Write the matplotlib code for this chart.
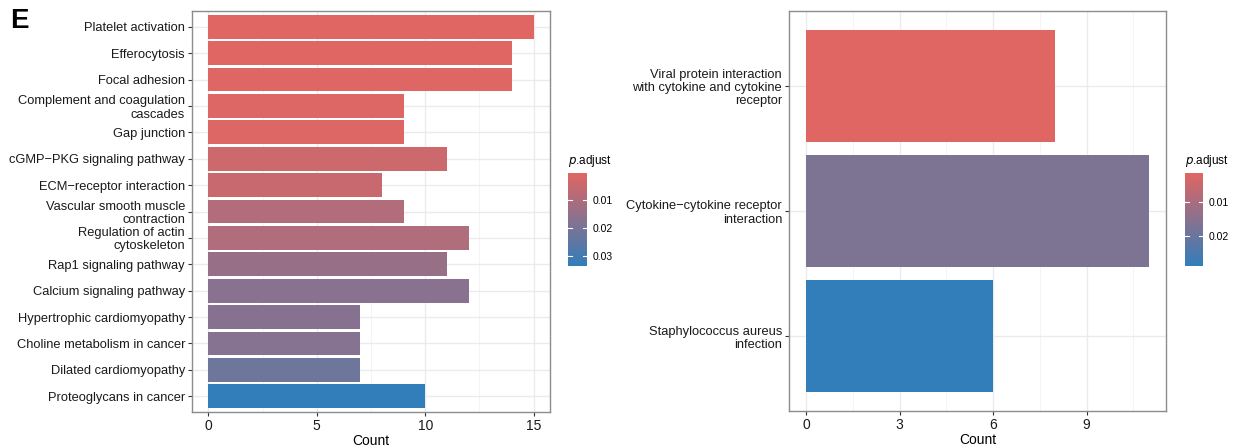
import numpy as np
import matplotlib
matplotlib.use("Agg")
import matplotlib.pyplot as plt
from matplotlib.colors import LinearSegmentedColormap, Normalize

plt.rcParams['font.family'] = ['Liberation Sans', 'DejaVu Sans']

# left panel (KEGG terms, top to bottom)
left_terms = ["Platelet activation", "Efferocytosis", "Focal adhesion",
              "Complement and coagulation\ncascades", "Gap junction",
              "cGMP\u2212PKG signaling pathway", "ECM\u2212receptor interaction",
              "Vascular smooth muscle\ncontraction", "Regulation of actin\ncytoskeleton",
              "Rap1 signaling pathway", "Calcium signaling pathway",
              "Hypertrophic cardiomyopathy", "Choline metabolism in cancer",
              "Dilated cardiomyopathy", "Proteoglycans in cancer"]
left_count = [15, 14, 14, 9, 9, 11, 8, 9, 12, 11, 12, 7, 7, 7, 10]
left_padj = [0.0002, 0.0004, 0.0007, 0.0010, 0.0011, 0.0040, 0.0048, 0.0090,
             0.0095, 0.0142, 0.0170, 0.0175, 0.0178, 0.0220, 0.0336]
left_ticks = [0, 5, 10, 15]
left_cbar_ticks = [0.01, 0.02, 0.03]

# right panel
right_terms = ["Viral protein interaction\nwith cytokine and cytokine\nreceptor",
               "Cytokine\u2212cytokine receptor\ninteraction",
               "Staphylococcus aureus\ninfection"]
right_count = [8, 11, 6]
right_padj = [0.0015, 0.0170, 0.0288]
right_ticks = [0, 3, 6, 9]
right_cbar_ticks = [0.01, 0.02]

cmap = LinearSegmentedColormap.from_list("padj", ["#e06663", "#327eba"])

W, H = 1237, 447
fig = plt.figure(figsize=(W / 100, H / 100), dpi=100)


def px(x0, y0, x1, y1):
    return [x0 / W, 1 - y1 / H, (x1 - x0) / W, (y1 - y0) / H]


def panel(rect, terms, counts, padj, ticks, minor, xmax):
    ax = fig.add_axes(rect)
    norm = Normalize(min(padj), max(padj))
    n = len(terms)
    ypos = np.arange(n)[::-1] + 1
    ax.barh(ypos, counts, height=0.9, color=cmap(norm(padj)), zorder=3)
    ax.set_ylim(0.4, n + 0.6)
    ax.set_xlim(-0.05 * xmax, 1.05 * xmax)
    ax.set_yticks(ypos)
    ax.set_yticklabels(terms, fontsize=9.3, linespacing=1.12)
    ax.set_xticks(ticks)
    ax.set_xticklabels([str(t) for t in ticks], fontsize=10)
    ax.set_xticks(minor, minor=True)
    ax.tick_params(axis='x', which='minor', length=0)
    ax.tick_params(axis='both', which='major', length=3, width=0.8,
                   color='#333333', labelcolor='#1a1a1a', pad=2)
    ax.grid(True, which='major', color='#ebebeb', linewidth=1.0, zorder=0)
    ax.grid(True, which='minor', axis='x', color='#f3f3f3', linewidth=0.6, zorder=0)
    ax.set_axisbelow(True)
    for s in ax.spines.values():
        s.set_color('#8c8c8c')
        s.set_linewidth(1.0)
    ax.set_xlabel("Count", fontsize=10, labelpad=1)
    return ax, norm


def colorbar(rect, norm, ticks):
    cax = fig.add_axes(rect)
    vals = np.linspace(norm.vmin, norm.vmax, 200)
    cax.imshow(vals[:, None], aspect='auto', cmap=cmap, norm=norm,
               extent=[0, 1, norm.vmax, norm.vmin])
    cax.set_xlim(0, 1)
    cax.set_ylim(norm.vmax, norm.vmin)
    for t in ticks:
        cax.plot([0, 0.2], [t, t], color='white', lw=0.8)
        cax.plot([0.8, 1], [t, t], color='white', lw=0.8)
    cax.set_xticks([])
    cax.yaxis.tick_right()
    cax.set_yticks(ticks)
    cax.set_yticklabels([f"{t:.2f}" for t in ticks], fontsize=7.5)
    cax.tick_params(axis='y', length=0, pad=4)
    for s in cax.spines.values():
        s.set_visible(False)
    cax.text(0, 1.04, r"$\it{p}$.adjust", transform=cax.transAxes,
             fontsize=8.5, ha='left', va='bottom')


axl, norml = panel(px(192, 11, 550, 412), left_terms, left_count, left_padj,
                   left_ticks, [2.5, 7.5, 12.5], 15)
colorbar(px(568, 173, 587, 266), norml, left_cbar_ticks)

axr, normr = panel(px(789, 11, 1166, 411), right_terms, right_count, right_padj,
                   right_ticks, [1.5, 4.5, 7.5, 10.5], 11)
colorbar(px(1185, 173, 1203, 266), normr, right_cbar_ticks)

fig.text(10 / W, 1 - 8 / H, "E", fontsize=20, fontweight='bold', ha='left', va='top')

fig.savefig("out.png", dpi=100)
